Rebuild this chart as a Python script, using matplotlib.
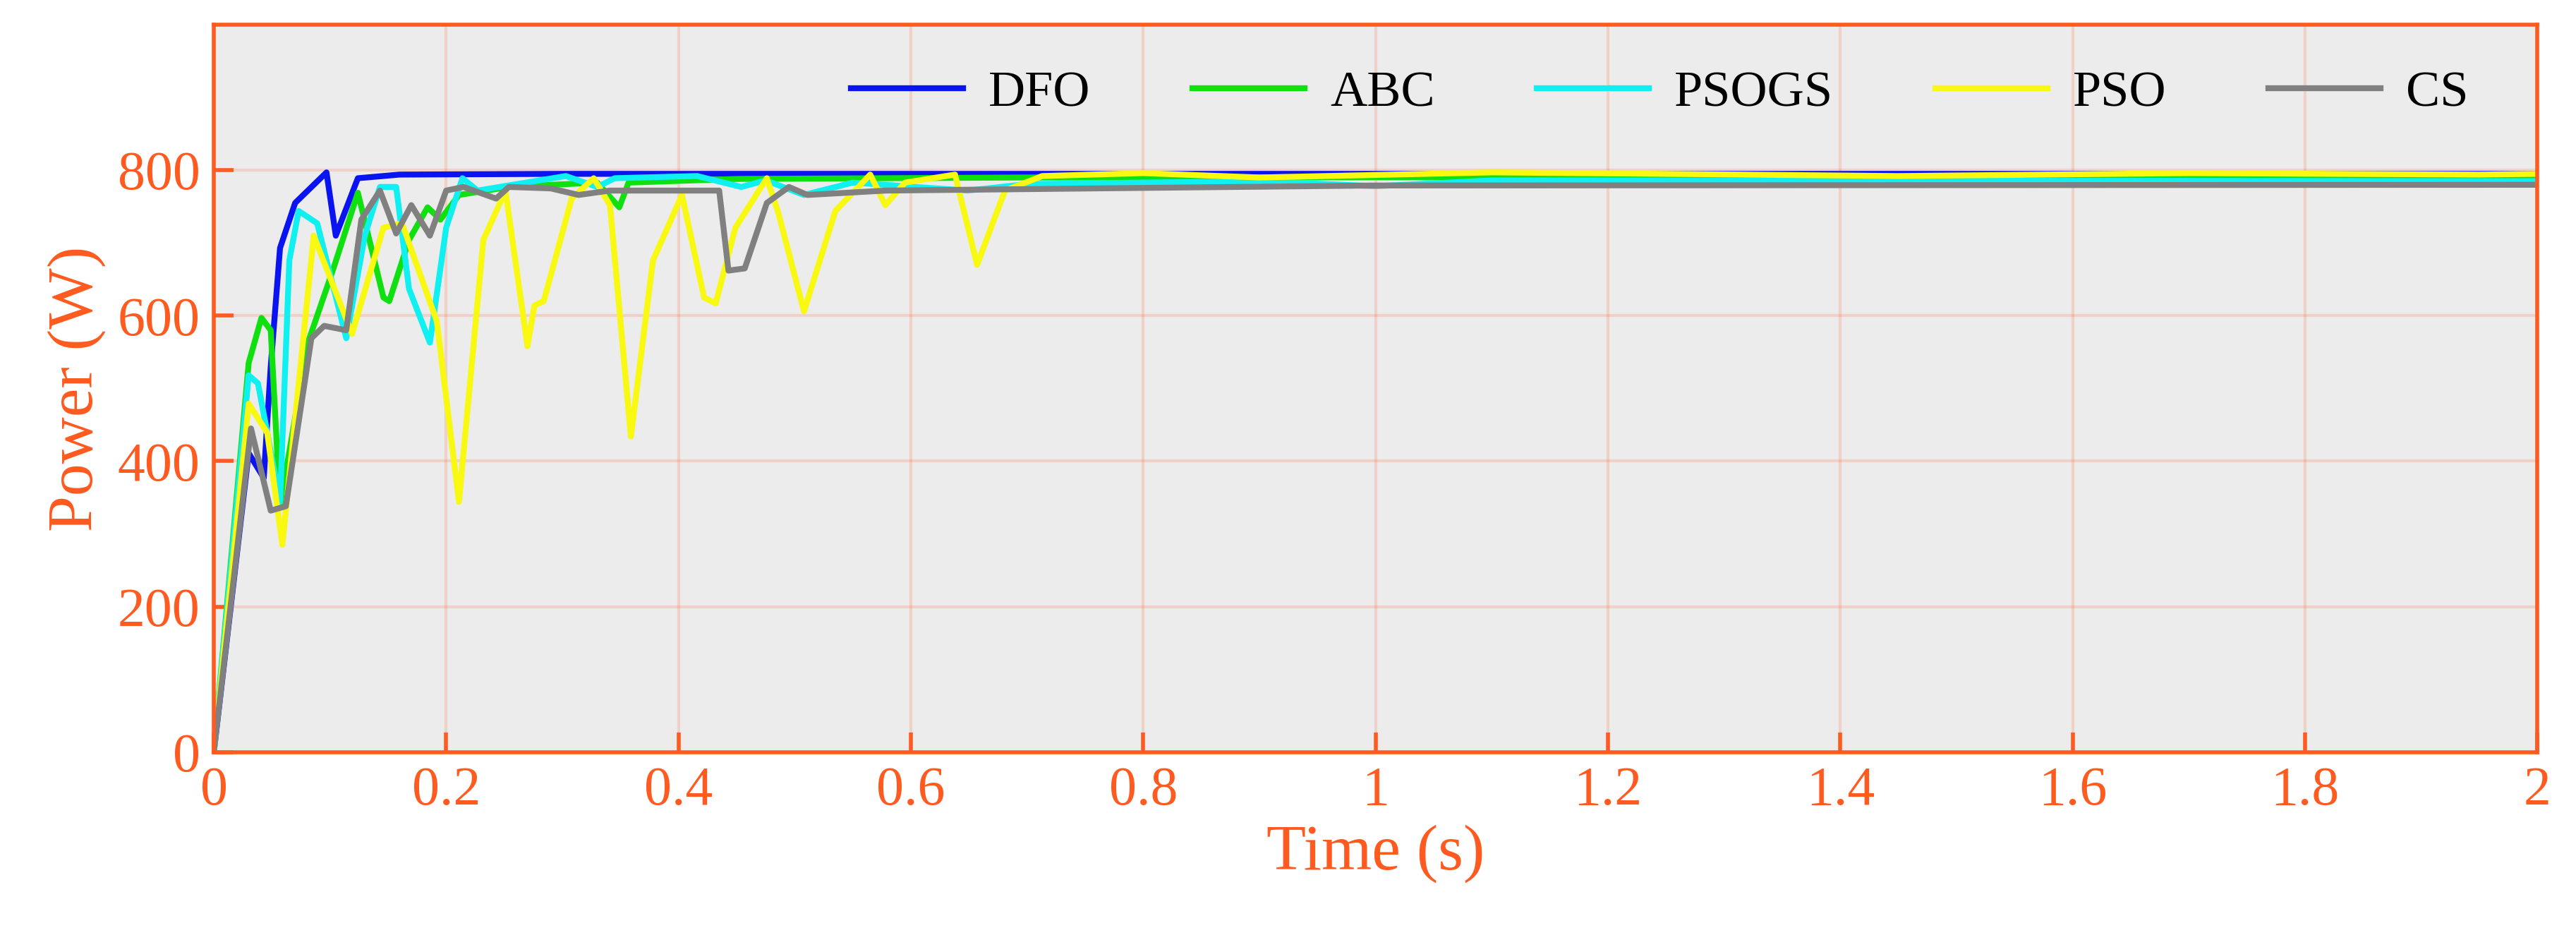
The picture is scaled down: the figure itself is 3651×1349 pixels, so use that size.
import numpy as np
import matplotlib.pyplot as plt

plt.rcParams['font.family'] = ['Liberation Serif', 'DejaVu Serif']

# time (s) and power (W)
dfo_t = [0, 0.03, 0.043, 0.049, 0.057, 0.07, 0.097, 0.105, 0.124, 0.16, 0.3, 2.0]
dfo_p = [0, 411, 377, 530, 693, 755, 797, 710, 789, 794, 795, 795]

abc_t = [0, 0.03, 0.041, 0.049, 0.057, 0.081, 0.103, 0.124, 0.146, 0.151, 0.168, 0.184,
         0.195, 0.211, 0.254, 0.33, 0.349, 0.357, 0.45, 0.7, 2.0]
abc_p = [0, 535, 597, 580, 338, 563, 665, 769, 625, 620, 704, 749,
         732, 766, 777, 783, 749, 783, 788, 790, 791]

psogs_t = [0, 0.03, 0.038, 0.046, 0.057, 0.065, 0.073, 0.089, 0.114, 0.13, 0.143, 0.157,
           0.168, 0.186, 0.2, 0.214, 0.227, 0.303, 0.33, 0.345, 0.416, 0.454, 0.475,
           0.508, 0.55, 0.649, 0.7, 0.9, 1.0, 1.1, 2.0]
psogs_p = [0, 518, 507, 439, 344, 676, 744, 727, 569, 710, 777, 777,
           637, 563, 721, 789, 772, 792, 777, 789, 792, 777, 786,
           766, 783, 772, 781, 785, 778, 786, 785]

pso_t = [0, 0.03, 0.046, 0.059, 0.086, 0.097, 0.119, 0.146, 0.162, 0.192, 0.211, 0.232,
         0.251, 0.27, 0.276, 0.284, 0.308, 0.327, 0.341, 0.359, 0.378, 0.403, 0.422,
         0.432, 0.449, 0.476, 0.486, 0.508, 0.535, 0.565, 0.578, 0.595, 0.638, 0.657,
         0.681, 0.713, 0.8, 0.9, 1.1, 1.25, 1.45, 1.7, 1.95, 2.0]
pso_p = [0, 479, 439, 285, 710, 665, 575, 721, 727, 592, 344, 704,
         772, 558, 614, 620, 761, 789, 752, 434, 676, 766, 625,
         617, 721, 789, 741, 606, 744, 794, 752, 783, 794, 670,
         772, 792, 796, 790, 797, 795, 792, 796, 794, 795]

cs_t = [0, 0.032, 0.049, 0.062, 0.084, 0.095, 0.114, 0.127, 0.143, 0.157, 0.17, 0.186,
        0.2, 0.215, 0.243, 0.254, 0.29, 0.314, 0.341, 0.435, 0.443, 0.457, 0.476,
        0.495, 0.511, 0.578, 1.0, 2.0]
cs_p = [0, 445, 332, 338, 569, 586, 580, 732, 772, 713, 752, 710,
        772, 777, 761, 777, 775, 766, 772, 772, 662, 665, 755,
        777, 766, 772, 779, 780]

series = [("DFO", dfo_t, dfo_p, "#0a14f0"),
          ("ABC", abc_t, abc_p, "#10e010"),
          ("PSOGS", psogs_t, psogs_p, "#10f0f0"),
          ("PSO", pso_t, pso_p, "#f8f810"),
          ("CS", cs_t, cs_p, "#808080")]

orange = "#ff5a1f"
fig = plt.figure(figsize=(36.51, 13.49), dpi=100)
ax = fig.add_axes([0.083, 0.21, 0.902, 0.764])
ax.set_facecolor("#ececec")

for name, t, p, c in series:
    ax.plot(t, p, color=c, linewidth=6, label=name)

ax.set_xlim(0, 2)
ax.set_ylim(0, 1000)
ax.set_xticks(np.arange(0, 2.01, 0.2))
ax.set_xticklabels(["0", "0.2", "0.4", "0.6", "0.8", "1", "1.2", "1.4", "1.6", "1.8", "2"])
ax.set_yticks([0, 200, 400, 600, 800])
ax.grid(True, color=orange, alpha=0.18, linewidth=3)
for s in ax.spines.values():
    s.set_color(orange)
    s.set_linewidth(4)
ax.tick_params(direction="in", length=20, width=4, colors=orange, labelsize=56, pad=14)
ax.set_xlabel("Time (s)", fontsize=66, color=orange, labelpad=8)
ax.set_ylabel("Power (W)", fontsize=66, color=orange, labelpad=12)

leg = ax.legend(ncol=5, loc="upper right", bbox_to_anchor=(0.99, 1.0), frameon=False,
                fontsize=52, handlelength=2.2, columnspacing=2.0, handletextpad=0.5)

fig.savefig("out.png", dpi=100)
